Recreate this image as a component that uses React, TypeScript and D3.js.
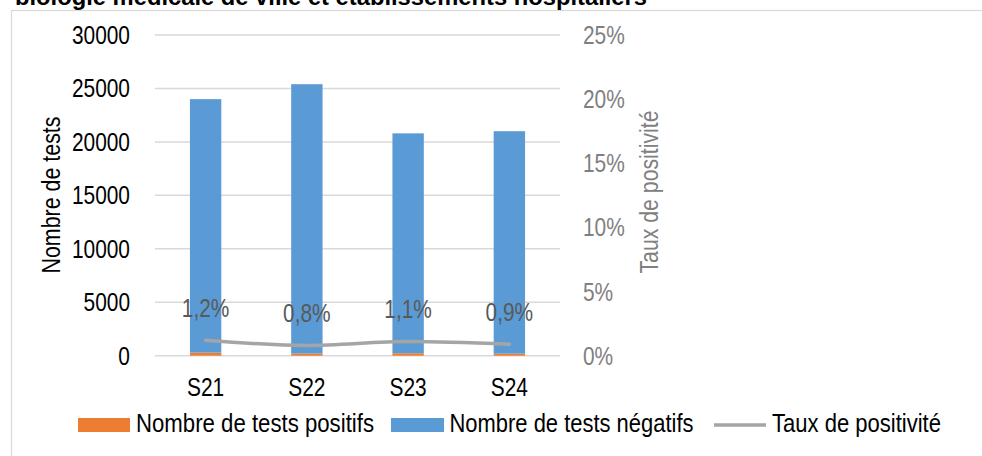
import { useMemo } from "react";
import * as d3 from "d3";

const WIDTH = 982;
const HEIGHT = 456;

const TITLE = "biologie médicale de ville et établissements hospitaliers";
const weeks = ["S21", "S22", "S23", "S24"];
const positifs = [288, 203, 229, 189];
const negatifs = [23712, 25197, 20571, 20811];
const tauxPositivite = [0.012, 0.008, 0.011, 0.009];
const tauxLabels = ["1,2%", "0,8%", "1,1%", "0,9%"];
const leftTicks = [0, 5000, 10000, 15000, 20000, 25000, 30000];
const rightTicks = [0, 0.05, 0.1, 0.15, 0.2, 0.25];

// no narrow font installed, so squeeze Liberation Sans horizontally
const FONT = "'Liberation Sans', Arial, sans-serif";
const SX = 0.82;
const FS = 25.5;
const ORANGE = "#ED7D31";
const BLUE = "#5B9BD5";
const GREY_LINE = "#A5A5A5";

// plot box
const PLOT = { left: 155, right: 560, top: 35, bottom: 355.7 };

const Narrow = ({ x, y, anchor = "start", size = FS, fill = "#000", rotate = 0, children }: any) => (
  <text
    transform={`translate(${x},${y}) rotate(${rotate}) scale(${SX},1)`}
    textAnchor={anchor}
    fontSize={size}
    fill={fill}
  >
    {children}
  </text>
);

const App = () => {
  const x = useMemo(
    () => d3.scaleBand().domain(weeks).range([PLOT.left, PLOT.right]).padding(0),
    []
  );
  const yLeft = useMemo(
    () => d3.scaleLinear().domain([0, 30000]).range([PLOT.bottom, PLOT.top]),
    []
  );
  const yRight = useMemo(
    () => d3.scaleLinear().domain([0, 0.25]).range([PLOT.bottom, PLOT.top]),
    []
  );

  const barW = x.bandwidth() * 0.31;
  const cx = (w: string) => (x(w) || 0) + x.bandwidth() / 2;

  const rows = weeks.map((w, i) => ({ week: w, pos: positifs[i], neg: negatifs[i] }));
  const series = d3.stack<any>().keys(["pos", "neg"])(rows);
  const colors: Record<string, string> = { pos: ORANGE, neg: BLUE };

  const linePath = d3
    .line<number>()
    .x((_, i) => cx(weeks[i]))
    .y((d) => yRight(d))
    .curve(d3.curveMonotoneX)(tauxPositivite);

  return (
    <svg
      width={WIDTH}
      height={HEIGHT}
      style={{ position: "absolute", left: 0, top: 0, background: "#fff" }}
      fontFamily={FONT}
    >
      <rect x={11.5} y={10.5} width={990} height={460} fill="#fff" stroke="#d9d9d9" strokeWidth={1.2} />
      <text
        x={15}
        y={5}
        fontSize={24}
        fontWeight="bold"
        textLength={632}
        lengthAdjust="spacingAndGlyphs"
      >
        {TITLE}
      </text>

      {/* gridlines */}
      {leftTicks.map((t) => (
        <line key={t} x1={PLOT.left} x2={PLOT.right} y1={yLeft(t)} y2={yLeft(t)} stroke="#d9d9d9" strokeWidth={1.5} />
      ))}

      {/* bars */}
      {series.map((s) => (
        <g key={s.key} fill={colors[s.key]}>
          {s.map((d, j) => (
            <rect
              key={j}
              x={cx(weeks[j]) - barW / 2}
              y={yLeft(d[1])}
              width={barW}
              height={yLeft(d[0]) - yLeft(d[1])}
            />
          ))}
        </g>
      ))}

      {/* line */}
      <path d={linePath || ""} fill="none" stroke={GREY_LINE} strokeWidth={3.5} strokeLinecap="round" />
      {tauxPositivite.map((v, i) => (
        <Narrow key={i} x={cx(weeks[i])} y={yRight(v) - 23.5} anchor="middle" fill="#595959">
          {tauxLabels[i]}
        </Narrow>
      ))}

      {/* left axis */}
      {leftTicks.map((t) => (
        <Narrow key={t} x={130} y={yLeft(t) + 9} anchor="end">
          {t}
        </Narrow>
      ))}
      <text
        transform="translate(59.5,195) rotate(-90)"
        textAnchor="middle"
        fontSize={FS}
        textLength={157}
        lengthAdjust="spacingAndGlyphs"
      >
        Nombre de tests
      </text>

      {/* right axis */}
      {rightTicks.map((t) => (
        <Narrow key={t} x={583} y={yRight(t) + 9} fill="#808080">
          {d3.format(".0%")(t)}
        </Narrow>
      ))}
      <text
        transform="translate(658,192) rotate(-90)"
        textAnchor="middle"
        fontSize={FS}
        fill="#808080"
        textLength={163}
        lengthAdjust="spacingAndGlyphs"
      >
        Taux de positivité
      </text>

      {/* x axis */}
      {weeks.map((w) => (
        <Narrow key={w} x={cx(w)} y={396} anchor="middle">
          {w}
        </Narrow>
      ))}

      {/* legend */}
      <rect x={78} y={418} width={52} height={14} fill={ORANGE} />
      <text x={136} y={432} fontSize={26} textLength={238} lengthAdjust="spacingAndGlyphs">
        Nombre de tests positifs
      </text>
      <rect x={391} y={418} width={53} height={14} fill={BLUE} />
      <text x={449.5} y={432} fontSize={26} textLength={244} lengthAdjust="spacingAndGlyphs">
        Nombre de tests négatifs
      </text>
      <line x1={714} x2={766} y1={425} y2={425} stroke={GREY_LINE} strokeWidth={3.5} />
      <text x={772} y={432} fontSize={26} textLength={169} lengthAdjust="spacingAndGlyphs">
        Taux de positivité
      </text>
    </svg>
  );
};

export default App;
